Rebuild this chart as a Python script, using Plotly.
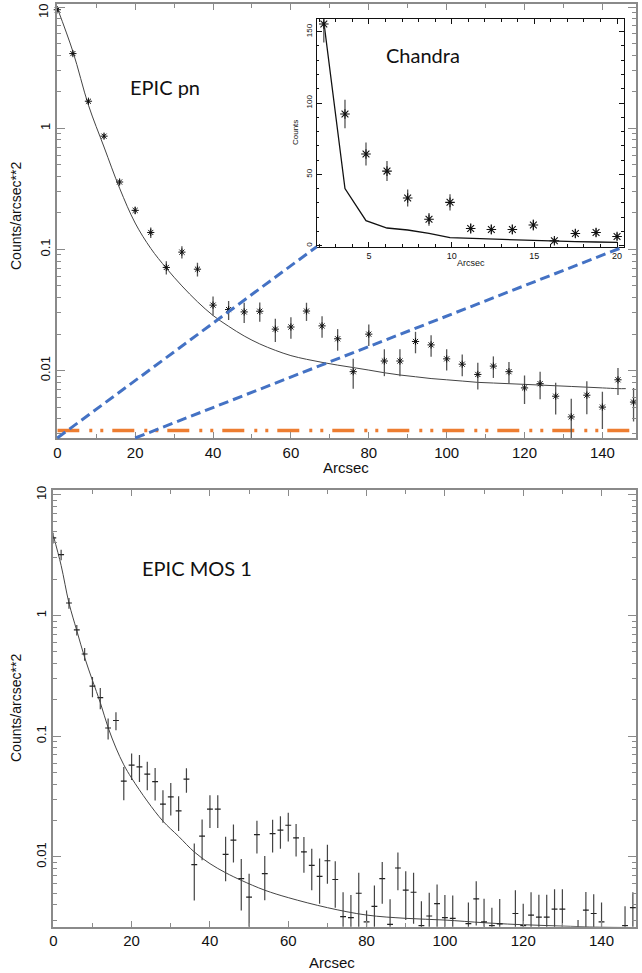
import plotly.graph_objects as go

# ---------------- DATA ----------------
# EPIC pn surface brightness (counts/arcsec^2)
pn_x = [0, 4, 8, 12, 16, 20, 24, 28, 32, 36, 40, 44, 48, 52, 56, 60, 64, 68, 72, 76,
        80, 84, 88, 92, 96, 100, 104, 108, 112, 116, 120, 124, 128, 132, 136, 140, 144, 148]
pn_y = [9.5, 4.13, 1.67, 0.86, 0.36, 0.21, 0.138, 0.071, 0.095, 0.0687, 0.0347, 0.0319,
        0.0305, 0.0309, 0.022, 0.0229, 0.031, 0.0234, 0.0183, 0.0098, 0.020, 0.012, 0.012,
        0.0174, 0.0163, 0.0125, 0.0113, 0.0093, 0.0109, 0.0098, 0.0072, 0.0078, 0.00615,
        0.00415, 0.00627, 0.0050, 0.0084, 0.0055]
pn_err = [0.3, 0.17, 0.07, 0.043, 0.018, 0.015, 0.014, 0.009, 0.011, 0.009, 0.0062, 0.0057,
          0.0058, 0.0056, 0.0048, 0.0046, 0.0053, 0.0047, 0.0037, 0.0027, 0.004, 0.003, 0.003,
          0.0035, 0.0033, 0.0025, 0.0023, 0.0023, 0.0022, 0.002, 0.0019, 0.002, 0.0018,
          0.0017, 0.0019, 0.0017, 0.0021, 0.0017]
pn_model_x = [0, 4, 8, 12, 16, 20, 24, 28, 32, 36, 40, 44, 48, 52, 56, 60, 64, 68, 72, 76,
              80, 84, 88, 92, 96, 100, 104, 108, 112, 116, 120, 124, 128, 132, 136, 140, 144, 146]
pn_model_y = [9.8, 4.3, 1.55, 0.70, 0.32, 0.165, 0.102, 0.070, 0.050, 0.037, 0.0285, 0.0232,
              0.0193, 0.0166, 0.0147, 0.0133, 0.0124, 0.0117, 0.0111, 0.0106, 0.0101, 0.0096,
              0.0092, 0.0089, 0.0086, 0.0084, 0.0082, 0.0080, 0.0079, 0.0078, 0.0077, 0.0076,
              0.0075, 0.0074, 0.0073, 0.0072, 0.0071, 0.0071]
pn_background = 0.0032

# Chandra inset (counts)
ch_x = [2.27, 3.55, 4.82, 6.09, 7.34, 8.63, 9.90, 11.15, 12.40, 13.67, 14.94, 16.21, 17.48, 18.73, 20.0]
ch_y = [155.4, 92.3, 64.3, 52.3, 33.4, 18.5, 30.4, 12.1, 11.4, 11.4, 14.5, 3.5, 8.6, 9.3, 6.5]
ch_err = [13, 10, 8, 7, 6, 4.5, 5.7, 3.5, 3.4, 3.4, 3.8, 2, 3, 3, 2.5]
ch_model = [157, 40, 17.5, 12.4, 11.0, 8.6, 5.6, 5.1, 4.7, 4.2, 3.7, 3.0, 2.8, 2.6, 2.3]

# EPIC MOS 1 surface brightness
mos_x = [0, 2, 4, 6, 8, 10, 12, 14, 16, 18, 20, 22, 24, 26, 28, 30, 32, 34, 36, 38, 40, 42,
         44, 46, 48, 50, 52, 54, 56, 58, 60, 62, 64, 66, 68, 70, 72, 74, 76, 78, 80, 82, 84,
         86, 88, 90, 92, 94, 96, 98, 100, 102, 106, 108, 110, 112, 114, 118, 120, 122, 124,
         126, 128, 130, 134, 136, 138, 140, 146, 148]
mos_y = [4.4, 3.19, 1.27, 0.76, 0.48, 0.26, 0.209, 0.117, 0.135, 0.0425, 0.0577, 0.0558,
         0.0486, 0.042, 0.0274, 0.0315, 0.0241, 0.0442, 0.00865, 0.0149, 0.0249, 0.0249,
         0.0105, 0.0138, 0.0066, 0.00465, 0.0153, 0.00728, 0.0156, 0.0167, 0.0183, 0.0144,
         0.011, 0.0085, 0.0069, 0.0093, 0.0065, 0.0032, 0.00314, 0.0050, 0.0029, 0.0039,
         0.0066, 0.00276, 0.0081, 0.0053, 0.0051, 0.0027, 0.00324, 0.0041, 0.00314, 0.0031,
         0.0028, 0.0045, 0.0029, 0.0027, 0.00279, 0.0034, 0.0027, 0.0033, 0.00317, 0.00317,
         0.0037, 0.0037, 0.0026, 0.00363, 0.0034, 0.0029, 0.0027, 0.0038]
mos_err = [0.44, 0.32, 0.13, 0.076, 0.058, 0.05, 0.042, 0.023, 0.023, 0.013, 0.0144, 0.014,
           0.013, 0.0126, 0.0082, 0.0095, 0.0077, 0.0102, 0.0043, 0.0055, 0.0075, 0.0075,
           0.0042, 0.0048, 0.003, 0.0026, 0.0046, 0.0029, 0.0047, 0.005, 0.0049, 0.0043,
           0.0036, 0.0032, 0.0028, 0.0033, 0.0027, 0.0019, 0.0017, 0.0024, 0.0007, 0.0019,
           0.0025, 0.0017, 0.0028, 0.0023, 0.0023, 0.0016, 0.0018, 0.0018, 0.0017, 0.0017,
           0.0014, 0.0018, 0.0016, 0.0011, 0.0017, 0.0019, 0.0014, 0.0018, 0.0017, 0.0017,
           0.0017, 0.0017, 0.0004, 0.0015, 0.0015, 0.0013, 0.0012, 0.0013]
mos_model_x = [0, 2, 4, 6, 8, 10, 12, 14, 16, 18, 20, 24, 28, 32, 36, 40, 44, 48, 54, 60,
               70, 80, 90, 100, 110, 118, 126, 134, 140, 148]
mos_model_y = [4.6, 2.6, 1.27, 0.75, 0.45, 0.29, 0.19, 0.118, 0.08, 0.058, 0.045, 0.029,
               0.0198, 0.0148, 0.011, 0.0088, 0.0074, 0.0064, 0.0053, 0.0046, 0.0038, 0.0033,
               0.0031, 0.0030, 0.00285, 0.00276, 0.0027, 0.00265, 0.00262, 0.0026]

log_ticks = [0.01, 0.1, 1, 10]
log_ticktext = ["0.01", "0.1", "1", "10"]
x_ticks = [0, 20, 40, 60, 80, 100, 120, 140]

# ---------------- LAYOUT GEOMETRY ----------------
W, H = 642, 973
def px_x(p): return p / W
def px_y(p): return 1 - p / H

top_xdom = [px_x(57.3), px_x(635.5)]
top_ydom = [px_y(438), px_y(4)]
ins_xdom = [px_x(316.7), px_x(624)]
ins_ydom = [px_y(246.7), px_y(19)]
bot_xdom = [px_x(53.3), px_x(636)]
bot_ydom = [px_y(926.7), px_y(490)]

top_xrange = [0, 148.5]
top_yrange = [-2.556, 1.025]
bot_xrange = [0, 148.8]
bot_yrange = [-2.578, 1.04]

minor_log = [m * 10 ** e for e in range(-3, 2) for m in range(2, 10)]

tick_font = dict(family="Liberation Sans, Arial, sans-serif", size=15, color="#111")
ytick_font = dict(family="Liberation Sans, Arial, sans-serif", size=13, color="#111")
AXC = "#8a8a8a"

fig = go.Figure()

# Top panel: EPIC pn
fig.add_trace(go.Scatter(x=pn_model_x, y=pn_model_y, mode="lines", line=dict(color="#444", width=1, shape="spline"),
                         xaxis="x", yaxis="y", showlegend=False, hoverinfo="skip"))
fig.add_trace(go.Scatter(x=[top_xrange[0], top_xrange[1]], y=[pn_background, pn_background], mode="lines",
                         line=dict(color="#ED7D31", width=3.5, dash="22px,10px,3px,8px,3px,9px"),
                         xaxis="x", yaxis="y", showlegend=False))
fig.add_trace(go.Scatter(x=pn_x, y=pn_y, mode="markers",
                         marker=dict(symbol="asterisk-open", size=6, color="#111", line=dict(width=1, color="#111")),
                         error_y=dict(type="data", array=pn_err, color="#555", thickness=1.3, width=0),
                         xaxis="x", yaxis="y", showlegend=False, cliponaxis=False))

# Inset: Chandra
fig.add_trace(go.Scatter(x=ch_x, y=ch_model, mode="lines", line=dict(color="#111", width=1.3),
                         xaxis="x3", yaxis="y3", showlegend=False))
fig.add_trace(go.Scatter(x=ch_x, y=ch_y, mode="markers",
                         marker=dict(symbol="asterisk-open", size=8, color="#111", line=dict(width=1.1, color="#111")),
                         error_y=dict(type="data", array=ch_err, color="#555", thickness=1.3, width=0),
                         xaxis="x3", yaxis="y3", showlegend=False, cliponaxis=False))

# Bottom panel: EPIC MOS 1
fig.add_trace(go.Scatter(x=mos_model_x, y=mos_model_y, mode="lines", line=dict(color="#444", width=1, shape="spline"),
                         xaxis="x2", yaxis="y2", showlegend=False))
fig.add_trace(go.Scatter(x=mos_x, y=mos_y, mode="markers",
                         marker=dict(size=1, color="#333"),
                         error_y=dict(type="data", array=mos_err, color="#444", thickness=1.2, width=0),
                         error_x=dict(type="constant", value=0.75, color="#222", thickness=1.2, width=0),
                         xaxis="x2", yaxis="y2", showlegend=False))

def main_x(domain, rng, anchor):
    return dict(domain=domain, range=rng, anchor=anchor, tickmode="array", tickvals=x_ticks,
                ticks="inside", ticklen=6, tickcolor=AXC, tickwidth=1.2,
                minor=dict(tickmode="array", tickvals=[10, 30, 50, 70, 90, 110, 130], ticks="inside",
                           ticklen=4, tickcolor=AXC, showgrid=False),
                showline=True, linecolor=AXC, linewidth=1.5, mirror="allticks",
                showgrid=False, zeroline=False, tickfont=tick_font, automargin=False,
                ticklabeloverflow="allow")

def main_y(domain, rng, anchor, ticktext):
    return dict(domain=domain, range=rng, anchor=anchor, type="log", tickmode="array",
                tickvals=log_ticks, ticktext=ticktext, tickangle=-90,
                ticks="inside", ticklen=8, tickcolor=AXC, tickwidth=1.2,
                minor=dict(tickmode="array", tickvals=minor_log, ticks="inside", ticklen=4,
                           tickcolor=AXC, showgrid=False),
                showline=True, linecolor=AXC, linewidth=1.5, mirror="allticks",
                showgrid=False, zeroline=False, tickfont=ytick_font, automargin=False,
                ticklabeloverflow="allow")

small_font = dict(family="Liberation Sans, Arial, sans-serif", size=9, color="#111")

# top panel: the "10" label sits at the very top edge, so it is drawn as an annotation below
top_ticktext = [t if v != 10 else "" for v, t in zip(log_ticks, log_ticktext)]

fig.update_layout(
    width=W, height=H, margin=dict(l=0, r=0, t=0, b=0),
    paper_bgcolor="white", plot_bgcolor="white", template="none", showlegend=False,
    xaxis=main_x(top_xdom, top_xrange, "y"),
    yaxis=main_y(top_ydom, top_yrange, "x", top_ticktext),
    xaxis2=main_x(bot_xdom, bot_xrange, "y2"),
    yaxis2=main_y(bot_ydom, bot_yrange, "x2", log_ticktext),
    xaxis3=dict(domain=ins_xdom, range=[1.84, 20.42], anchor="y3", tickmode="array", tickvals=[5, 10, 15, 20],
                ticks="inside", ticklen=5, tickcolor="#111",
                minor=dict(dtick=1, ticks="inside", ticklen=2.5, tickcolor="#111", showgrid=False),
                showline=True, linecolor="#111", linewidth=1.2, mirror="allticks",
                showgrid=False, zeroline=False, tickfont=small_font, automargin=False),
    yaxis3=dict(domain=ins_ydom, range=[-0.7, 158.9], anchor="x3", tickmode="array", tickvals=[0, 50, 100, 150],
                tickangle=-90, ticks="inside", ticklen=5, tickcolor="#111",
                minor=dict(dtick=10, ticks="inside", ticklen=2.5, tickcolor="#111", showgrid=False),
                showline=True, linecolor="#111", linewidth=1.2, mirror="allticks",
                showgrid=False, zeroline=False, tickfont=dict(family="Liberation Sans, Arial, sans-serif", size=8, color="#111"),
                automargin=False),
)

# Dashed blue connector lines from the main panel to the inset corners
def top_x_to_paper(v):
    return top_xdom[0] + (v - top_xrange[0]) / (top_xrange[1] - top_xrange[0]) * (top_xdom[1] - top_xdom[0])

blue = dict(color="#4472C4", width=3, dash="10px,5px")
fig.add_shape(type="line", xref="paper", yref="paper", x0=top_x_to_paper(0), y0=top_ydom[0],
              x1=ins_xdom[0], y1=ins_ydom[0], line=blue)
fig.add_shape(type="line", xref="paper", yref="paper", x0=top_x_to_paper(20), y0=top_ydom[0],
              x1=ins_xdom[1], y1=ins_ydom[0], line=blue)

label_font = dict(family="Lato, 'Open Sans', sans-serif", size=20, color="#111")
axis_title_font = dict(family="Liberation Sans, Arial, sans-serif", size=15, color="#111")

ann = [
    dict(text="EPIC pn", x=px_x(165), y=px_y(87), font=label_font),
    dict(text="Chandra", x=px_x(423), y=px_y(55), font=label_font),
    dict(text="EPIC MOS 1", x=px_x(197), y=px_y(568), font=label_font),
    dict(text="Arcsec", x=px_x(346), y=px_y(467), font=axis_title_font),
    dict(text="Arcsec", x=px_x(332), y=px_y(962), font=axis_title_font),
    dict(text="Counts/arcsec**2", x=px_x(16), y=px_y(216), textangle=-90, font=dict(axis_title_font, size=14)),
    dict(text="Counts/arcsec**2", x=px_x(16), y=px_y(708), textangle=-90, font=dict(axis_title_font, size=14)),
    dict(text="Counts", x=px_x(295), y=px_y(133), textangle=-90, font=dict(axis_title_font, size=8)),
    dict(text="Arcsec", x=px_x(471), y=px_y(263), font=dict(axis_title_font, size=9)),
    dict(text="10", x=px_x(44), y=px_y(11), textangle=-90, font=ytick_font),
]
for a in ann:
    fig.add_annotation(xref="paper", yref="paper", showarrow=False, xanchor="center", yanchor="middle", **a)

fig.write_html("out.html")
